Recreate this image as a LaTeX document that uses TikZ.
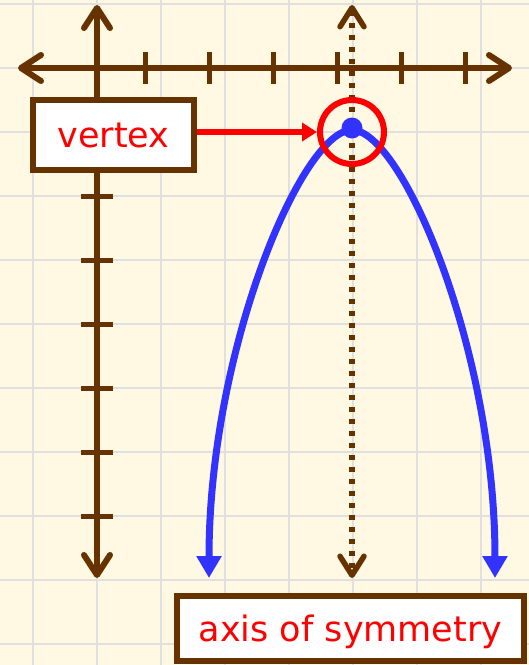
\documentclass[tikz,border=0pt]{standalone}
\usepackage{fontspec}
\setmainfont{DejaVu Sans}
\usetikzlibrary{arrows.meta}
\definecolor{bg}{RGB}{255,248,226}
\definecolor{gridc}{RGB}{224,224,224}
\definecolor{brn}{RGB}{102,51,0}
\definecolor{blu}{RGB}{51,51,255}
\definecolor{rd}{RGB}{255,0,0}
\begin{document}
\begin{tikzpicture}[x=1pt,y=-1pt,
  gridline/.style={gridc, line width=2.2pt},
  axisline/.style={brn, line width=6pt, line cap=round,
    {Straight Barb[length=20pt,width=26pt,round]}-{Straight Barb[length=20pt,width=26pt,round]}},
  tickline/.style={brn, line width=5pt},
  symline/.style={brn, line width=5.5pt, dash pattern=on 5.5pt off 6.5pt,
    {Straight Barb[length=19pt,width=24pt,round]}-{Straight Barb[length=19pt,width=24pt,round]}},
  curveline/.style={blu, line width=7pt,
    {Triangle[length=22pt,width=24pt]}-{Triangle[length=22pt,width=24pt]}},
  labelbox/.style={draw=brn, line width=6.5pt, fill=white, text=rd,
    font=\fontsize{35pt}{40pt}\selectfont, text height=25pt, text depth=0pt, inner sep=0pt},
  pointer/.style={rd, line width=6pt, -{Triangle[length=15pt,width=18pt]}}
]
\useasboundingbox (0,0) rectangle (529,665);
\fill[bg] (0,0) rectangle (529,665);
% grid
\foreach \gx in {33,97,161,225,289,353,417,481}
  \draw[gridline] (\gx,0) -- (\gx,665);
\foreach \gy in {4,68,132,196,260,324,388,452,516,580,644}
  \draw[gridline] (0,\gy) -- (529,\gy);
% axes
\coordinate (xl) at (18,68);
\coordinate (xr) at (512,68);
\coordinate (yt) at (97,5);
\coordinate (yb) at (97,578);
\draw[axisline] (xl) -- (xr);
\draw[axisline] (yt) -- (yb);
\foreach \tx in {145,209,273,337,401,465}
  \draw[tickline] (\tx,52) -- (\tx,84);
\foreach \ty in {196,260,324,388,452,516}
  \draw[tickline] (81,\ty) -- (113,\ty);
% axis of symmetry
\coordinate (st) at (352,5);
\coordinate (sb) at (352,578);
\draw[symline] (st) -- (sb);
% parabola
\coordinate (pl) at (209,578);
\coordinate (pr) at (495,578);
\coordinate (vtx) at (352,130);
\draw[curveline] (pl) .. controls (209,350) and (302,130) .. (vtx)
  .. controls (402,130) and (495,350) .. (pr);
% vertex marker
\node[circle, draw=rd, line width=6pt, minimum size=64pt, inner sep=0pt] (ring) at (352,132) {};
\node[circle, fill=blu, minimum size=21pt, inner sep=0pt] (dot) at (352,128) {};
% labels
\node[labelbox, minimum width=161pt, minimum height=70pt] (vbox) at (113.5,135) {vertex};
\node[labelbox, minimum width=347pt, minimum height=65pt] (abox) at (350.5,628.5) {axis of symmetry};
\draw[pointer] (ring.west -| vbox.east) -- (ring.west);
\end{tikzpicture}
\end{document}
